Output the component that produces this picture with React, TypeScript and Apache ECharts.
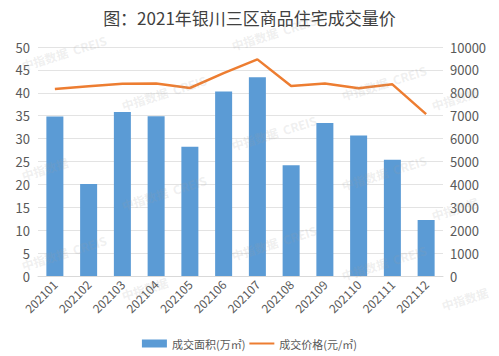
import React, { useEffect, useRef } from "react";
import * as echarts from "echarts";

const months = ["202101","202102","202103","202104","202105","202106","202107","202108","202109","202110","202111","202112"];
const areaValues = [34.8, 20.1, 35.8, 34.9, 28.2, 40.3, 43.4, 24.2, 33.4, 30.7, 25.4, 12.2];
const priceValues = [8170, 8290, 8400, 8410, 8210, 8860, 9460, 8300, 8410, 8200, 8370, 7070];
const leftTicks = [0, 50, 10];
const rightTicks = [0, 10000, 2000];

export default function App() {
  const ref = useRef<HTMLDivElement>(null);
  useEffect(() => {
    const chart = echarts.init(ref.current!, null, { renderer: "svg" });
    const font = "'Microsoft YaHei', 'Noto Sans CJK SC', sans-serif";
    const wm: any[] = [];
    const spots = [[20, 60], [120, 100], [20, 170], [120, 200], [20, 260], [120, 290], [230, 40], [340, 90], [430, 100], [230, 140], [340, 180], [430, 210], [230, 250], [340, 270], [440, 300]];
    spots.forEach(([x, y], i) => {
      wm.push({
        type: "text", x, y, rotation: 0.3, silent: true, z: 100,
        style: { text: i % 3 === 2 ? "中指数据" : "中指数据  CREIS", fill: "rgba(160,160,160,0.18)", font: `bold 12px ${font}` },
      });
    });
    chart.setOption({
      animation: false,
      title: {
        text: "图：2021年银川三区商品住宅成交量价",
        left: "center", top: 4,
        textStyle: { fontSize: 17, fontWeight: "normal", color: "#404040", fontFamily: font },
      },
      grid: { left: 38, right: 56, top: 47, bottom: 80 },
      legend: {
        bottom: 2, left: "center", itemGap: 4,
        textStyle: { fontSize: 11, color: "#595959", fontFamily: font },
        data: [
          { name: "成交面积(万㎡)", icon: "rect", itemStyle: { color: "#5b9bd5" } },
          { name: "成交价格(元/㎡)", icon: "path://M0,4 L25,4 L25,6 L0,6 Z", itemStyle: { color: "#ed7d31" } },
        ],
        itemWidth: 25, itemHeight: 8,
      },
      xAxis: {
        type: "category", data: months,
        axisLine: { lineStyle: { color: "#d9d9d9" } },
        axisTick: { show: false },
        axisLabel: { rotate: 45, color: "#595959", fontSize: 12, fontFamily: font, interval: 0, margin: 6 },
      },
      yAxis: [
        {
          type: "value", min: leftTicks[0], max: leftTicks[1], interval: leftTicks[2] / 2,
          axisLabel: { color: "#595959", fontSize: 13, fontFamily: font, margin: 8 },
          splitLine: { lineStyle: { color: "#e3e3e3" } },
          axisLine: { show: false }, axisTick: { show: false },
        },
        {
          type: "value", min: rightTicks[0], max: rightTicks[1], interval: rightTicks[2] / 2,
          axisLabel: { color: "#595959", fontSize: 13, fontFamily: font, margin: 7, formatter: (v: number) => String(v) },
          splitLine: { show: false },
          axisLine: { show: false }, axisTick: { show: false },
        },
      ],
      series: [
        {
          name: "成交面积(万㎡)", type: "bar", data: areaValues, barWidth: 17,
          itemStyle: { color: "#5b9bd5" },
        },
        {
          name: "成交价格(元/㎡)", type: "line", yAxisIndex: 1, data: priceValues,
          symbol: "none", lineStyle: { color: "#ed7d31", width: 2.5 },
          itemStyle: { color: "#ed7d31" },
        },
      ],
      graphic: wm,
    });
    return () => chart.dispose();
  }, []);
  return <div ref={ref} style={{ width: 499, height: 356, position: "absolute", left: 0, top: 0, background: "#fff" }} />;
}
